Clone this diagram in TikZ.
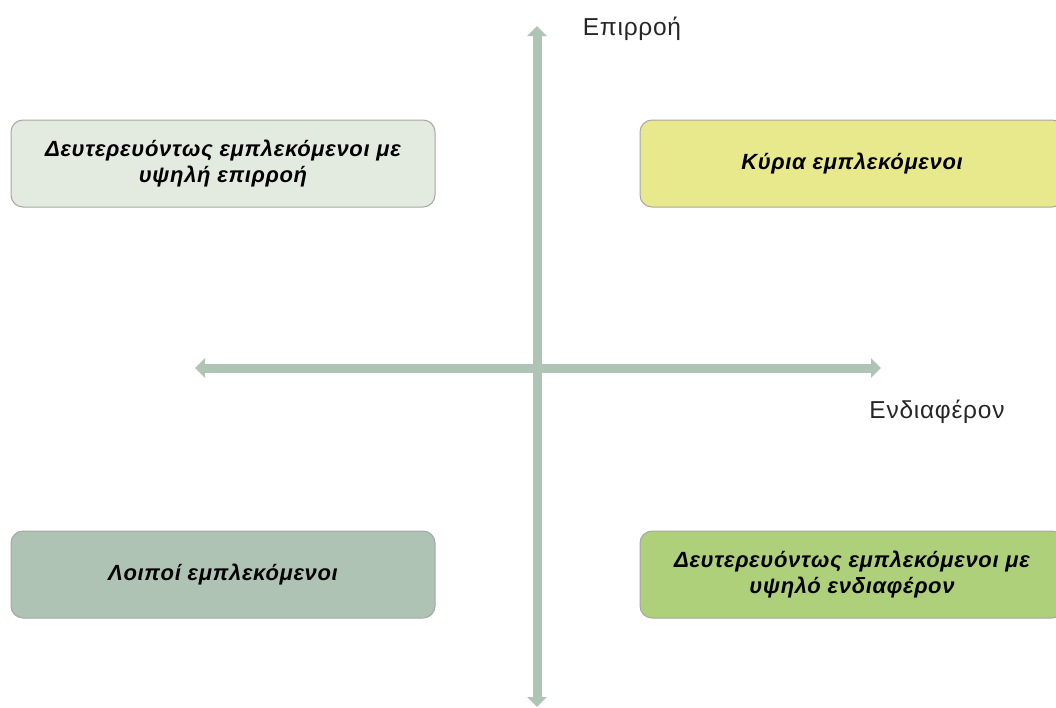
\documentclass[tikz,border=0pt]{standalone}
\usepackage{fontspec}
\setmainfont{Liberation Sans}
\usetikzlibrary{arrows.meta}
\definecolor{axisgreen}{HTML}{B0C4B5}
\definecolor{lightsage}{HTML}{E3EADF}
\definecolor{paleyellow}{HTML}{E8E98C}
\definecolor{sage}{HTML}{AFC3B4}
\definecolor{leafgreen}{HTML}{AFD07B}

\begin{document}
\begin{tikzpicture}[x=1pt, y=-1pt, thick,
    quad/.style = {draw=black!35, line width=1pt, rounded corners=12pt,
        minimum width=424pt, minimum height=87pt, align=center,
        font=\fontsize{22}{26}\selectfont\bfseries\itshape\addfontfeatures{LetterSpace=3}},
    axis/.style = {draw=axisgreen, line width=9pt, -{Triangle[width=19pt,length=10pt]}},
    axislabel/.style = {font=\fontsize{24.5}{28}\selectfont\addfontfeatures{LetterSpace=3}, text=black!85}]
        \useasboundingbox (0,0) rectangle (1056,707);
        \node[quad, fill=lightsage] (high-influence) at (223,163.5) {Δευτερευόντως εμπλεκόμενοι με\\υψηλή επιρροή};
        \node[quad, fill=paleyellow] (key) at (852,163.5) {Κύρια εμπλεκόμενοι};
        \node[quad, fill=sage] (others) at (223,574.5) {Λοιποί εμπλεκόμενοι};
        \node[quad, fill=leafgreen] (high-interest) at (852,574.5) {Δευτερευόντως εμπλεκόμενοι με\\υψηλό ενδιαφέρον};

        \coordinate (center) at (537,368);
        \coordinate (top) at (537,26);
        \coordinate (bottom) at (537,707);
        \coordinate (left) at (195,368);
        \coordinate (right) at (881,368);

        \draw[axis] (center) -- (top);
        \draw[axis] (center) -- (bottom);
        \draw[axis] (center) -- (left);
        \draw[axis] (center) -- (right);

        \node[axislabel] (influence) at (632,29) {Επιρροή};
        \node[axislabel] (interest) at (937,412) {Ενδιαφέρον};
    \end{tikzpicture}
\end{document}
